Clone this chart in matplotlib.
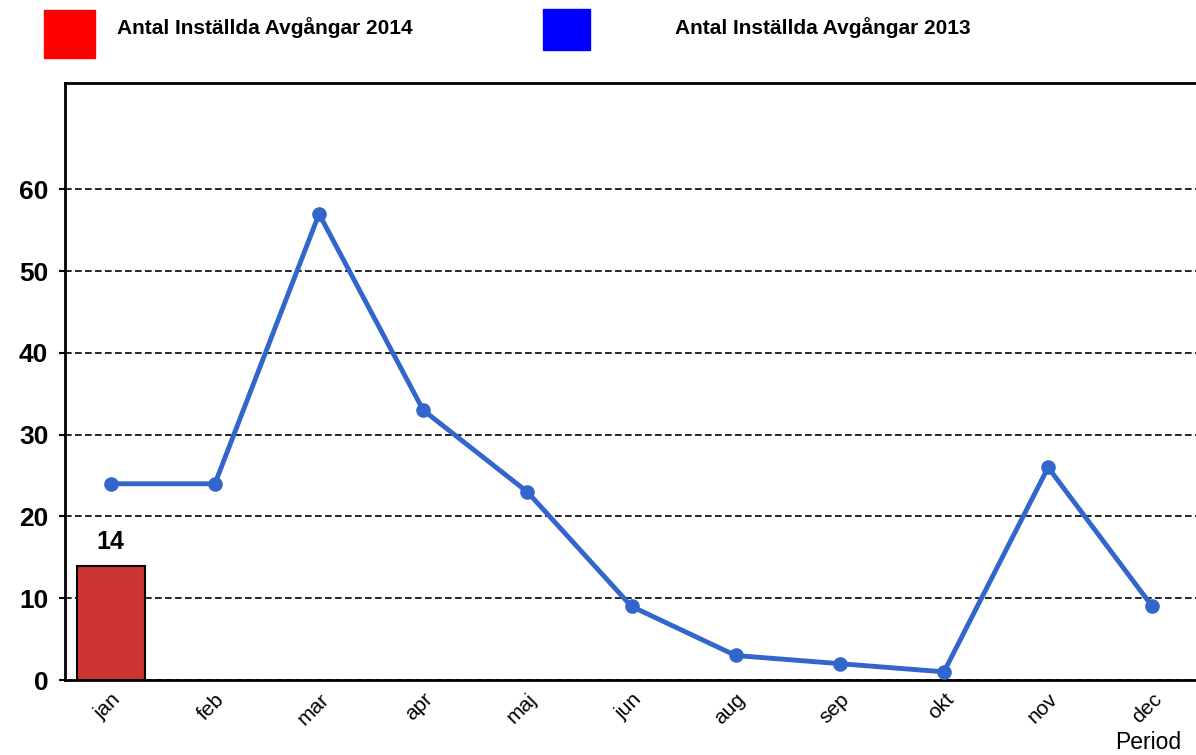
import matplotlib
matplotlib.use("Agg")
import matplotlib.pyplot as plt
from matplotlib.patches import Rectangle

months = ["jan", "feb", "mar", "apr", "maj", "jun", "aug", "sep", "okt", "nov", "dec"]
values_2013 = [24, 24, 57, 33, 23, 9, 3, 2, 1, 26, 9]
values_2014 = [14]
yticks = [0, 10, 20, 30, 40, 50, 60]
label_2014 = "Antal Inställda Avgångar 2014"
label_2013 = "Antal Inställda Avgångar 2013"

plt.rcParams['font.family'] = ['Liberation Sans', 'DejaVu Sans']

fig = plt.figure(figsize=(11.96, 7.55), dpi=100)
ax = fig.add_axes([0.0543, 0.0993, 0.9457, 0.7907])

x = list(range(len(months)))
ax.set_axisbelow(True)
ax.yaxis.grid(True, linestyle=(0, (4, 2)), color="black", linewidth=1.2)

bars = ax.bar(x[:len(values_2014)], values_2014, width=0.65, color="#CC3333",
              edgecolor="black", linewidth=1.5, zorder=2)
for xi, v in zip(x, values_2014):
    ax.text(xi, v + 1.4, str(v), ha="center", va="bottom", fontsize=18,
            fontweight="bold", zorder=4)

ax.plot(x, values_2013, color="#3366CC", linewidth=3.5, marker="o",
        markersize=9.5, zorder=3)

ax.set_xlim(-0.44, 10.42)
ax.set_ylim(0, 73)
ax.set_yticks(yticks)
ax.set_yticklabels([str(t) for t in yticks], fontsize=19, fontweight="bold")
ax.set_xticks(x)
ax.set_xticklabels(months, rotation=45, ha="right", rotation_mode="anchor",
                   fontsize=15)
ax.tick_params(axis="x", length=0, pad=7)
ax.tick_params(axis="y", length=4, width=1.5, pad=8)

ax.spines["right"].set_visible(False)
for side in ["left", "top", "bottom"]:
    ax.spines[side].set_linewidth(2)

fig.text(1148 / 1196, 1 - 749 / 755, "Period", ha="center", va="baseline",
         fontsize=16.5)

# Legend
fig.patches.append(Rectangle((44 / 1196, 1 - 58 / 755), 51 / 1196, 48 / 755,
                             transform=fig.transFigure, color="#FF0000"))
fig.text(117 / 1196, 1 - 28 / 755, label_2014, ha="left", va="center",
         fontsize=15, fontweight="bold")
fig.patches.append(Rectangle((543 / 1196, 1 - 50 / 755), 47 / 1196, 41 / 755,
                             transform=fig.transFigure, color="#0000FF"))
fig.text(675 / 1196, 1 - 28 / 755, label_2013, ha="left", va="center",
         fontsize=15, fontweight="bold")

fig.savefig("out.png", dpi=100)
